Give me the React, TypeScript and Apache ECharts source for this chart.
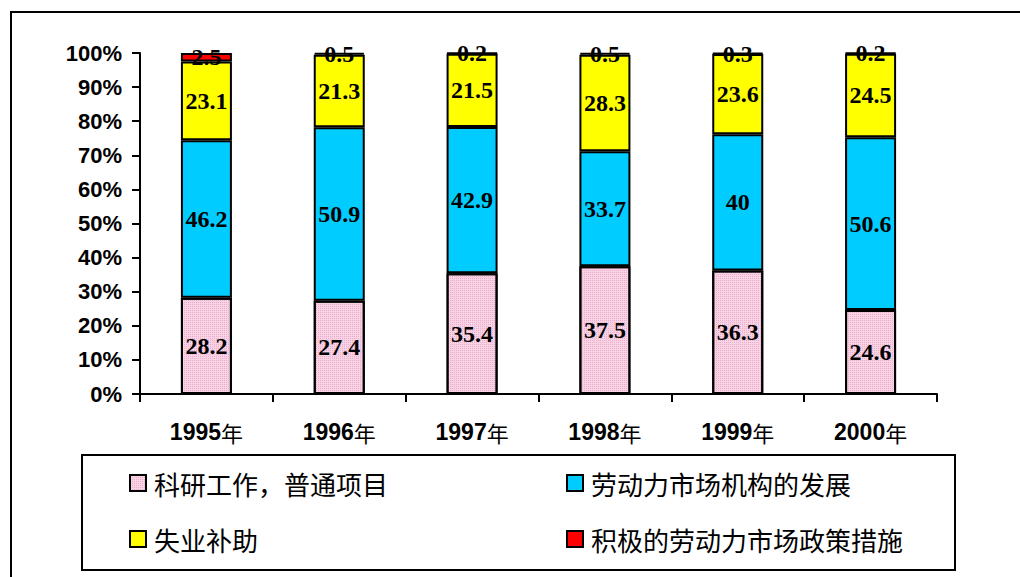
import React, { useEffect, useRef } from "react";
import * as echarts from "echarts";

const categories = ["1995年", "1996年", "1997年", "1998年", "1999年", "2000年"];
const seriesNames = ["科研工作，普通项目", "劳动力市场机构的发展", "失业补助", "积极的劳动力市场政策措施"];
const research = [28.2, 27.4, 35.4, 37.5, 36.3, 24.6];
const institutions = [46.2, 50.9, 42.9, 33.7, 40, 50.6];
const benefits = [23.1, 21.3, 21.5, 28.3, 23.6, 24.5];
const active = [2.5, 0.5, 0.2, 0.5, 0.3, 0.2];
const yTicks = [0, 10, 20, 30, 40, 50, 60, 70, 80, 90, 100];

const colors = ["#F7D3E4", "#00CCFF", "#FFFF00", "#FF0000"];

export default function App() {
  const ref = useRef<HTMLDivElement>(null);
  useEffect(() => {
    if (!ref.current) return;
    const chart = echarts.init(ref.current, null, { renderer: "svg" });
    const raw = [research, institutions, benefits, active];
    const totals = categories.map((_, i) => raw.reduce((s, arr) => s + arr[i], 0));
    const series = raw.map((arr, k) => ({
      name: seriesNames[k],
      type: "bar",
      stack: "total",
      barWidth: 51,
      data: arr.map((v, i) => ({ value: (v / totals[i]) * 100, raw: v })),
      itemStyle: {
        color: colors[k],
        borderColor: "#000",
        borderWidth: 2,
        ...(k === 0
          ? {
              decal: {
                symbol: "rect",
                symbolSize: 1,
                color: "rgba(225,140,185,0.55)",
                dashArrayX: [1, 1],
                dashArrayY: [1, 1],
              },
            }
          : {}),
      },
      label: {
        show: true,
        position: "inside",
        color: "#000",
        fontFamily: "Liberation Serif",
        fontWeight: "bold",
        fontSize: 24,
        formatter: (p: any) => String(p.data.raw),
      },
      emphasis: { disabled: true },
    }));
    const legendPos = [
      { left: 129, top: 470 },
      { left: 566, top: 470 },
      { left: 129, top: 526 },
      { left: 566, top: 526 },
    ];
    const option: any = {
      animation: false,
      grid: { left: 140, right: 83, top: 53, bottom: 183, containLabel: false },
      xAxis: {
        type: "category",
        data: categories,
        axisLine: { lineStyle: { color: "#000", width: 2 } },
        axisTick: { show: true, length: 8, lineStyle: { color: "#000", width: 2 } },
        axisLabel: {
          color: "#000",
          margin: 26,
          formatter: (v: string) => `{y|${v.replace("年", "")}}{n|年}`,
          rich: {
            y: { fontFamily: "Liberation Sans", fontWeight: "bold", fontSize: 23, color: "#000" },
            n: { fontFamily: "Noto Sans CJK SC", fontWeight: "normal", fontSize: 22, color: "#000" },
          },
        },
      },
      yAxis: {
        type: "value",
        min: 0,
        max: 100,
        interval: 10,
        axisLine: { show: true, lineStyle: { color: "#000", width: 2 } },
        axisTick: { show: true, length: 8, lineStyle: { color: "#000", width: 2 } },
        splitLine: { show: false },
        axisLabel: {
          color: "#000",
          fontFamily: "Liberation Sans",
          fontWeight: "bold",
          fontSize: 22,
          margin: 18,
          formatter: (v: number) => (yTicks.includes(v) ? v + "%" : ""),
        },
      },
      legend: seriesNames.map((n, i) => ({
        data: [n],
        left: legendPos[i].left,
        top: legendPos[i].top,
        padding: 0,
        itemWidth: 16,
        itemHeight: 16,
        itemGap: 0,
        icon: "rect",
        selectedMode: false,
        textStyle: {
          color: "#000",
          fontFamily: "Noto Sans CJK SC",
          fontSize: 26,
          lineHeight: 26,
          padding: [0, 0, 0, 3],
        },
      })),
      graphic: [
        {
          type: "rect",
          shape: { x: 11, y: 12, width: 1030, height: 600 },
          style: { fill: "none", stroke: "#000", lineWidth: 2 },
          silent: true,
        },
        {
          type: "rect",
          shape: { x: 82, y: 455, width: 873, height: 115 },
          style: { fill: "none", stroke: "#000", lineWidth: 2 },
          silent: true,
        },
      ],
      series,
    };
    chart.setOption(option);
    return () => chart.dispose();
  }, []);
  return (
    <div
      ref={ref}
      style={{ position: "fixed", left: 0, top: 0, width: 1020, height: 577, background: "#fff" }}
    />
  );
}
